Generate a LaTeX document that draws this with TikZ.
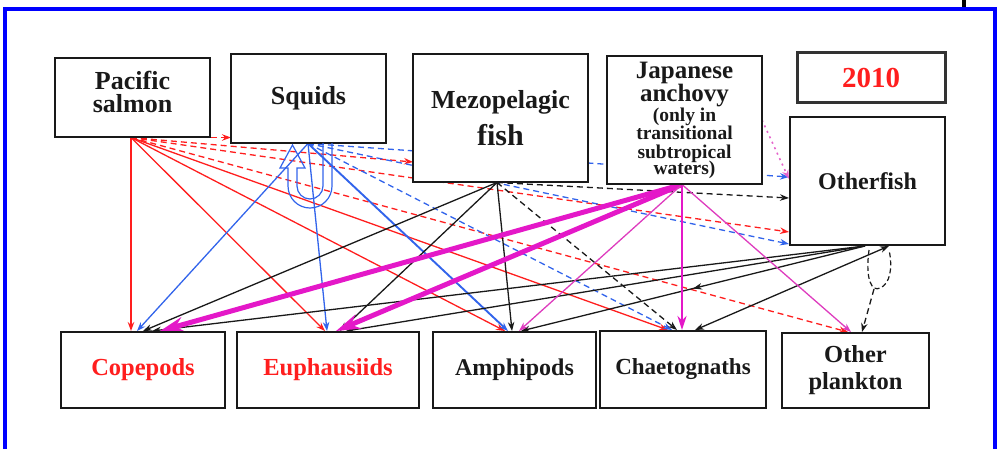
\documentclass[tikz,border=0pt]{standalone}
\usepackage{fontspec}
\setmainfont{Liberation Serif}
\usetikzlibrary{arrows.meta,decorations.markings}
\pgfdeclarelayer{bg}
\pgfsetlayers{bg,main}
\definecolor{fr}{RGB}{0,0,255}
\definecolor{rd}{RGB}{255,30,30}
\definecolor{bl}{RGB}{50,100,235}
\definecolor{mg}{RGB}{228,24,200}
\definecolor{pk}{RGB}{222,60,190}
\definecolor{bk}{RGB}{25,25,25}
\lineskiplimit=-100pt
\newcommand{\smallanch}{\fontsize{19.5}{18}\selectfont}
\begin{document}
\begin{tikzpicture}[x=1pt,y=-1pt,
  box/.style={draw=bk,line width=1.8pt,fill=white,inner sep=0pt,align=center,text=bk},
  con/.style={line width=1.3pt,-{Stealth[length=9pt,width=6.5pt]}},
  dsh/.style={con,dash pattern=on 6pt off 4pt},
  thickm/.style={line width=5pt,mg,-{Stealth[length=24pt,width=15pt]}},
  midarrow/.style={postaction={decorate},decoration={markings,mark=at position 0.5 with {\arrow{Stealth[length=9pt,width=6.5pt]}}}}
]
\useasboundingbox (0,0) rectangle (1000,448);
% frame
\draw[fr,line width=4pt] (5,470) -- (5,9) -- (995,9) -- (995,470);
\draw[black,line width=4pt] (964,-2) -- (964,7);

% boxes
\node[box,minimum width=155pt,minimum height=79pt,font=\bfseries\fontsize{26}{23}\selectfont] (salmon) at (132.5,97.5) {Pacific\\salmon\\[-12pt]};
\node[box,minimum width=155pt,minimum height=89pt,font=\bfseries\fontsize{26}{26}\selectfont] (squids) at (308.5,98.5) {Squids};
\node[box,minimum width=175pt,minimum height=128pt,font=\bfseries\fontsize{26}{30}\selectfont] (mezo) at (500.5,118) {Mezopelagic\\[7pt]\fontsize{30}{30}\selectfont fish};
\node[box,minimum width=155pt,minimum height=128pt,font=\bfseries\fontsize{25}{18}\selectfont] (anch) at (684.5,120) {Japanese\\[5pt]anchovy\\[2pt]\smallanch (only in\\\smallanch transitional\\[1pt]\smallanch subtropical\\[-2pt]\smallanch waters)};
\node[box,draw=black!80,line width=3pt,minimum width=148pt,minimum height=50pt,font=\bfseries\fontsize{29}{29}\selectfont,text=rd] (year) at (871,77.5) {2010};
\node[box,minimum width=155pt,minimum height=128pt,font=\bfseries\fontsize{24}{24}\selectfont] (ofish) at (867.5,181) {Otherfish};
\node[box,minimum width=164pt,minimum height=76pt,font=\bfseries\fontsize{24.5}{24}\selectfont,text=rd] (cope) at (143,370) {Copepods};
\node[box,minimum width=182pt,minimum height=76pt,font=\bfseries\fontsize{24.5}{24}\selectfont,text=rd] (euph) at (328,370) {Euphausiids};
\node[box,minimum width=163pt,minimum height=76pt,font=\bfseries\fontsize{24}{24}\selectfont] (amph) at (514.5,370) {Amphipods};
\node[box,minimum width=166pt,minimum height=77pt,font=\bfseries\fontsize{23}{24}\selectfont] (chae) at (683,369.5) {Chaetognaths};
\node[box,minimum width=147pt,minimum height=75pt,font=\bfseries\fontsize{24.5}{27}\selectfont] (oplk) at (855.5,370.5) {Other\\plankton};

% ports
\coordinate (sS) at (131,137.5);
\coordinate (qS) at (308,143.5);
\coordinate (mS) at (497,182.5);
\coordinate (aS) at (682,184.5);
\coordinate (aR) at (762,120);
\coordinate (oS) at (865,246);
\coordinate (oS2) at (889,246);
\coordinate (qL) at (231,137.5);
\coordinate (mL) at (413,162);
\coordinate (oL1) at (789,177);
\coordinate (oL1b) at (789,179);
\coordinate (oL2) at (789,198);
\coordinate (oL3) at (789,232);
\coordinate (oL4) at (789,244);
\coordinate (c1) at (131,331);
\coordinate (c2) at (137,331);
\coordinate (c3) at (143,331);
\coordinate (c4) at (160,331);
\coordinate (c5) at (152,331);
\coordinate (e1) at (325,331);
\coordinate (e2) at (327,331);
\coordinate (e3) at (340,331);
\coordinate (e4) at (336,331);
\coordinate (e5) at (346,331);
\coordinate (am1) at (505,331);
\coordinate (am2) at (508,331);
\coordinate (am3) at (512,331);
\coordinate (am4) at (519,331);
\coordinate (am5) at (521,331);
\coordinate (ch1) at (668,330);
\coordinate (ch2) at (672,330);
\coordinate (ch3) at (677,330);
\coordinate (ch4) at (682,330);
\coordinate (ch5) at (695,330);
\coordinate (op1) at (848,332);
\coordinate (op2) at (851,332);
\coordinate (op3) at (862,332);

\begin{pgfonlayer}{bg}
% salmon (red)
\draw[con,rd] (sS) -- (c1);
\draw[con,rd] (sS) -- (e1);
\draw[con,rd] (sS) -- (am1);
\draw[con,rd] (sS) -- (ch1);
\draw[dsh,rd] (sS) -- (qL);
\draw[dsh,rd] (sS) -- (mL);
\draw[dsh,rd] (sS) -- (oL3);
\draw[dsh,rd] (sS) -- (op1);
% squids (blue)
\draw[con,bl] (qS) -- (c2);
\draw[con,bl] (qS) -- (e2);
\draw[con,bl,line width=1.9pt] (qS) -- (am2);
\draw[dsh,bl] (qS) -- (oL1);
\draw[dsh,bl] (qS) -- (oL4);
\draw[dsh,bl] (qS) -- (ch2);
% mezopelagic (black)
\draw[con,bk] (mS) -- (c3);
\draw[con,bk] (mS) -- (e3);
\draw[con,bk] (mS) -- (am3);
\draw[dsh,bk] (mS) -- (ch3);
\draw[dsh,bk] (mS) -- (oL2);
% other fish (black)
\draw[con,bk] (oS) -- (c5);
\draw[con,bk] (oS) -- (e5);
\draw[con,bk,midarrow] (oS) -- (am5);
\draw[con,bk,{Stealth[length=9pt,width=6.5pt]}-{Stealth[length=9pt,width=6.5pt]}] (oS2) -- (ch5);
\draw[bk,line width=1.2pt,dash pattern=on 5pt off 3pt] (869,250) .. controls (865,280) and (872,292) .. (880,288) .. controls (890,284) and (893,268) .. (889,250);
\draw[dsh,bk] (874,289) -- (op3);
% anchovy (magenta)
\draw[thickm] (aS) -- (c4);
\draw[thickm] (aS) -- (e4);
\draw[con,pk] (aS) -- (am4);
\draw[con,mg,line width=2.8pt,-{Stealth[length=14pt,width=9pt]}] (aS) -- (ch4);
\draw[con,pk] (aS) -- (op2);
\draw[con,pk!80,line width=1.6pt,dash pattern=on 2pt off 4pt] (aR) -- (oL1b);
\end{pgfonlayer}

% squids cannibalism U-turn arrow
\draw[bl,line width=1.2pt,line join=miter]
  (332,143) -- (332,186) .. controls (332,198.15) and (322.15,208) .. (310,208)
  .. controls (297.85,208) and (288,198.15) .. (288,186) -- (288,168) -- (280,168)
  -- (292.5,145) -- (305,168) -- (297,168) -- (297,186)
  .. controls (297,193.2) and (302.8,199) .. (310,199)
  .. controls (317.2,199) and (323,193.2) .. (323,186) -- (323,143);
\end{tikzpicture}
\end{document}
